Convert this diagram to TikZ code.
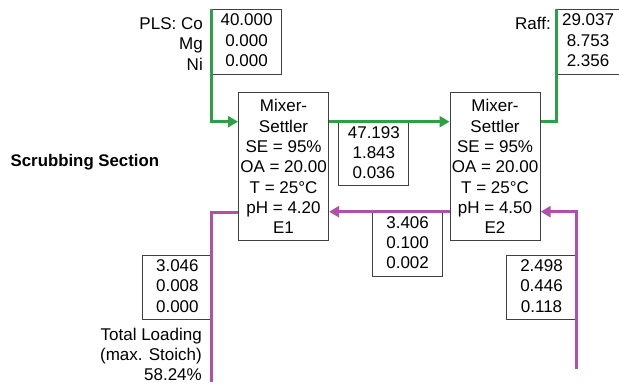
\documentclass[tikz,border=0pt]{standalone}
\usepackage{fontspec}
\setmainfont{Liberation Sans}
\usetikzlibrary{arrows.meta,calc}
\definecolor{flowgreen}{HTML}{2CA043}
\definecolor{flowpink}{HTML}{B050A8}
\definecolor{boxgray}{HTML}{404040}
\tikzset{
  txt/.style={font=\fontsize{17}{20.3}\selectfont, inner sep=0pt, align=center},
  databox/.style={txt, draw=boxgray, line width=1.1pt, anchor=north west},
  stagebox/.style={databox, minimum width=90pt, minimum height=148pt},
  gflow/.style={draw=flowgreen, line width=3pt},
  pflow/.style={draw=flowpink, line width=3pt},
  tip/.style={-{Triangle[length=10pt,width=11pt]}},
}
\begin{document}
\begin{tikzpicture}[x=1pt,y=-1pt]
\useasboundingbox (0,0) rectangle (619,385);
% stage boxes
\node[stagebox] (E1) at (238,92) {Mixer-\\Settler\\SE = 95\%\\OA = 20.00\\T = 25°C\\pH = 4.20\\E1};
\node[stagebox] (E2) at (449.5,92) {Mixer-\\Settler\\SE = 95\%\\OA = 20.00\\T = 25°C\\pH = 4.50\\E2};
% data boxes
\node[databox, minimum width=69pt, minimum height=65pt, text depth=4pt] (PLS) at (211.5,9.3) {40.000\\0.000\\0.000};
\node[databox, minimum width=63pt, minimum height=65pt, text depth=4pt] (Raff) at (556,9.3) {29.037\\8.753\\2.356};
\node[databox, minimum width=70pt, minimum height=63pt, text depth=3pt] (M1) at (338.3,122) {47.193\\1.843\\0.036};
\node[databox, minimum width=69.5pt, minimum height=64pt, text depth=3pt] (M2) at (372.3,211.7) {3.406\\0.100\\0.002};
\node[databox, minimum width=69pt, minimum height=64pt, text depth=3pt] (L1) at (142.3,255) {3.046\\0.008\\0.000};
\node[databox, minimum width=70pt, minimum height=64pt, text depth=3pt] (L2) at (506,255) {2.498\\0.446\\0.118};
% labels
\node[txt, align=right, anchor=north east] (plslab) at (203,17.5) {PLS: Co\\Mg\\Ni};
\node[txt, align=right, anchor=north east] (rafflab) at (551,17.5) {Raff:};
\node[txt, align=right, anchor=north east] (loadlab) at (202,327.5) {Total Loading\\(max. Stoich)\\58.24\%};
\node[txt, anchor=west, font=\fontsize{16.8}{20}\selectfont\bfseries] (title) at (10.5,161.7) {Scrubbing Section};
% connection points
\coordinate (E1gin) at ($(E1.north west)+(0,29.7)$);
\coordinate (E1gout) at ($(E1.north east)+(0,29.7)$);
\coordinate (E2gin) at ($(E2.north west)+(0,29.7)$);
\coordinate (E2gout) at ($(E2.north east)+(0,29.7)$);
\coordinate (E1pin) at ($(E1.north east)+(0,119.7)$);
\coordinate (E1pout) at ($(E1.north west)+(0,120.5)$);
\coordinate (E2pin) at ($(E2.north east)+(0,119.7)$);
\coordinate (E2pout) at ($(E2.north west)+(0,119.7)$);
\coordinate (pbotR) at (576,369);
\coordinate (pbotL) at (211.2,381.7);
% green flows
\draw[gflow, tip] (PLS.north west) -- (PLS.north west |- E1gin) -- (E1gin);
\draw[gflow, tip] (E1gout) -- (E2gin);
\draw[gflow] (E2gout) -- (Raff.west |- E2gout) -- (Raff.north west);
% pink flows
\draw[pflow, tip] (pbotR) -- (pbotR |- E2pin) -- (E2pin);
\draw[pflow, tip] (E2pout) -- (E1pin);
\draw[pflow] (E1pout) -- (pbotL |- E1pout) -- (pbotL);
\end{tikzpicture}
\end{document}
